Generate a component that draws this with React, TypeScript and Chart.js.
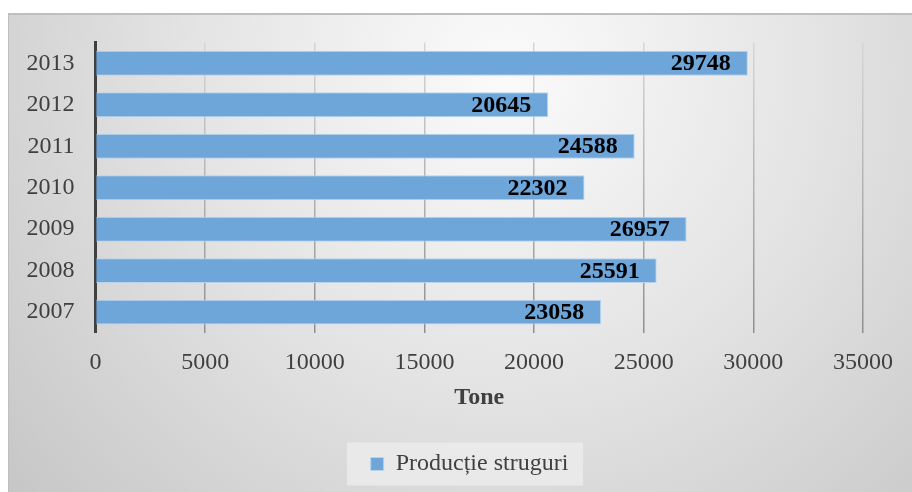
import React, { useEffect, useRef } from "react";
import { Chart, registerables } from "chart.js";

Chart.register(...registerables);

const years = ["2007", "2008", "2009", "2010", "2011", "2012", "2013"];
const productie = [23058, 25591, 26957, 22302, 24588, 20645, 29748];
const seriesName = "Producție struguri";
const axisTitle = "Tone";
const xMax = 35000;
const xStep = 5000;

const FONT = "'Liberation Serif', 'Times New Roman', serif";

const bgPlugin = {
  id: "bgPlugin",
  afterUpdate(chart: any) {
    const lg = chart.legend;
    if (lg) {
      lg.left += 34;
      lg.right += 34;
      if (lg.adjustHitBoxes) lg.adjustHitBoxes();
    }
  },
  beforeDraw(chart: any) {
    const { ctx, width, height } = chart;
    ctx.save();
    const g = ctx.createRadialGradient(width * 0.55, height * 0.12, 10, width * 0.55, height * 0.12, width * 0.75);
    g.addColorStop(0, "#fafafa");
    g.addColorStop(0.45, "#e4e4e4");
    g.addColorStop(1, "#c4c4c4");
    ctx.fillStyle = g;
    ctx.fillRect(0, 0, width, height);
    ctx.strokeStyle = "#bfbfbf";
    ctx.lineWidth = 2;
    ctx.beginPath();
    ctx.moveTo(0, height);
    ctx.lineTo(0, 1);
    ctx.lineTo(width, 1);
    ctx.stroke();
    const lg = chart.legend;
    if (lg) {
      ctx.fillStyle = "rgba(236,236,236,0.8)";
      const cx = (lg.left + lg.right) / 2 - 4.5;
      const cy = lg.top + lg.height / 2;
      ctx.fillRect(cx - 118, cy - 21.5, 236, 43);
    }
    ctx.restore();
  },
};

const labelPlugin = {
  id: "labelPlugin",
  afterDatasetsDraw(chart: any) {
    const { ctx } = chart;
    const meta = chart.getDatasetMeta(0);
    ctx.save();
    ctx.font = `bold 24px ${FONT}`;
    ctx.fillStyle = "#000000";
    ctx.textAlign = "right";
    ctx.textBaseline = "middle";
    meta.data.forEach((bar: any, i: number) => {
      ctx.fillText(String(productie[i]), bar.x - 17, bar.y + 1);
    });
    ctx.restore();
  },
};

export default function App() {
  const ref = useRef<HTMLCanvasElement | null>(null);
  useEffect(() => {
    if (!ref.current) return;
    const chart = new Chart(ref.current, {
      type: "bar",
      data: {
        labels: years,
        datasets: [
          {
            label: seriesName,
            data: productie,
            backgroundColor: "#6fa6da",
            borderColor: "#b8d3ee",
            borderWidth: 1,
            barPercentage: 0.6,
            categoryPercentage: 1,
          },
        ],
      },
      options: {
        indexAxis: "y",
        animation: false,
        responsive: false,
        layout: { padding: { left: 0, right: 49, top: 29.5, bottom: 6 } },
        scales: {
          x: {
            min: 0,
            max: xMax,
            ticks: {
              stepSize: xStep,
              padding: 15,
              color: "#404040",
              font: { family: FONT, size: 24 },
              callback: (v: any) => String(v),
            },
            grid: {
              drawTicks: false,
              color: (c: any) => {
                const a = c.chart.chartArea;
                if (!a) return "#cccccc";
                const g = c.chart.ctx.createLinearGradient(0, a.top, 0, a.bottom);
                g.addColorStop(0, "#d6d6d6");
                g.addColorStop(1, "#8f8f8f");
                return g;
              },
              lineWidth: 1.5,
            },
            border: { display: false },
            title: {
              display: true,
              text: axisTitle,
              color: "#404040",
              font: { family: FONT, size: 24, weight: "bold" },
              padding: { top: -8.5, bottom: 30 },
            },
          },
          y: {
            reverse: true,
            afterFit: (s: any) => {
              s.width = 87.5;
              s.paddingTop = 0;
              s.paddingBottom = 0;
            },
            ticks: {
              padding: 21,
              color: "#404040",
              font: { family: FONT, size: 24 },
            },
            grid: { drawOnChartArea: false, drawTicks: false },
            border: { display: true, color: "#404040", width: 3 },
          },
        },
        plugins: {
          legend: {
            position: "bottom",
            labels: {
              color: "#404040",
              font: { family: FONT, size: 24 },
              boxWidth: 13,
              boxHeight: 13,
              padding: 10,
            },
          },
          tooltip: { enabled: false },
        },
      },
      plugins: [bgPlugin, labelPlugin],
    } as any);
    return () => chart.destroy();
  }, []);
  return (
    <div style={{ position: "absolute", left: 8, top: 13, width: 904, height: 479 }}>
      <canvas ref={ref} width={904} height={479} style={{ display: "block" }} />
    </div>
  );
}
